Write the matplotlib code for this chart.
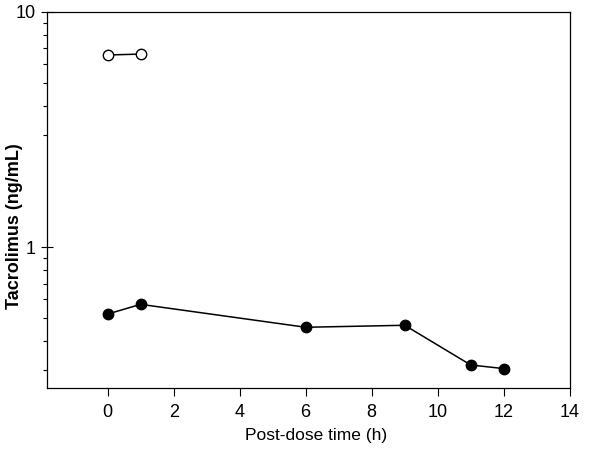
import matplotlib.pyplot as plt
from matplotlib.ticker import LogLocator, NullFormatter

plt.rcParams['font.family'] = ['Liberation Sans', 'DejaVu Sans']

# open circles (first series)
t_open = [0, 1]
conc_open = [6.56, 6.62]

# filled circles (second series)
t_filled = [0, 1, 6, 9, 11, 12]
conc_filled = [0.52, 0.572, 0.457, 0.466, 0.316, 0.305]

x_ticks = [0, 2, 4, 6, 8, 10, 12, 14]

fig = plt.figure(figsize=(6.01, 4.58), dpi=100)
ax = fig.add_axes([0.078, 0.1535, 0.87, 0.8205])

ax.plot(t_open, conc_open, '-o', color='black', lw=1.1,
        markerfacecolor='white', markeredgecolor='black', markersize=7.5, mew=1.0)
ax.plot(t_filled, conc_filled, '-o', color='black', lw=1.1,
        markerfacecolor='black', markersize=7.5)

ax.set_yscale('log')
ax.set_ylim(0.253, 10)
ax.set_xlim(-1.84, 14)
ax.set_xticks(x_ticks)
ax.set_yticks([1, 10])
ax.set_yticklabels(['1', '10'])
ax.yaxis.set_minor_locator(LogLocator(base=10, subs=[0.3, 0.4, 0.5, 0.6, 0.7, 0.8, 0.9]))
ax.yaxis.set_minor_formatter(NullFormatter())

ax.tick_params(axis='x', direction='out', length=6, width=0.8, labelsize=13, pad=6)
ax.tick_params(axis='y', which='major', direction='inout', length=8, width=0.8, labelsize=13, pad=4)
ax.tick_params(axis='y', which='minor', direction='out', length=3, width=0.8)

for s in ax.spines.values():
    s.set_linewidth(0.9)

ax.set_xlabel('Post-dose time (h)', fontsize=12.5)
ax.set_ylabel('Tacrolimus (ng/mL)', fontsize=13, fontweight='bold')
ax.xaxis.set_label_coords(0.515, -0.108)
ax.yaxis.set_label_coords(-0.046, 0.431)

fig.savefig('out.png', dpi=100)
